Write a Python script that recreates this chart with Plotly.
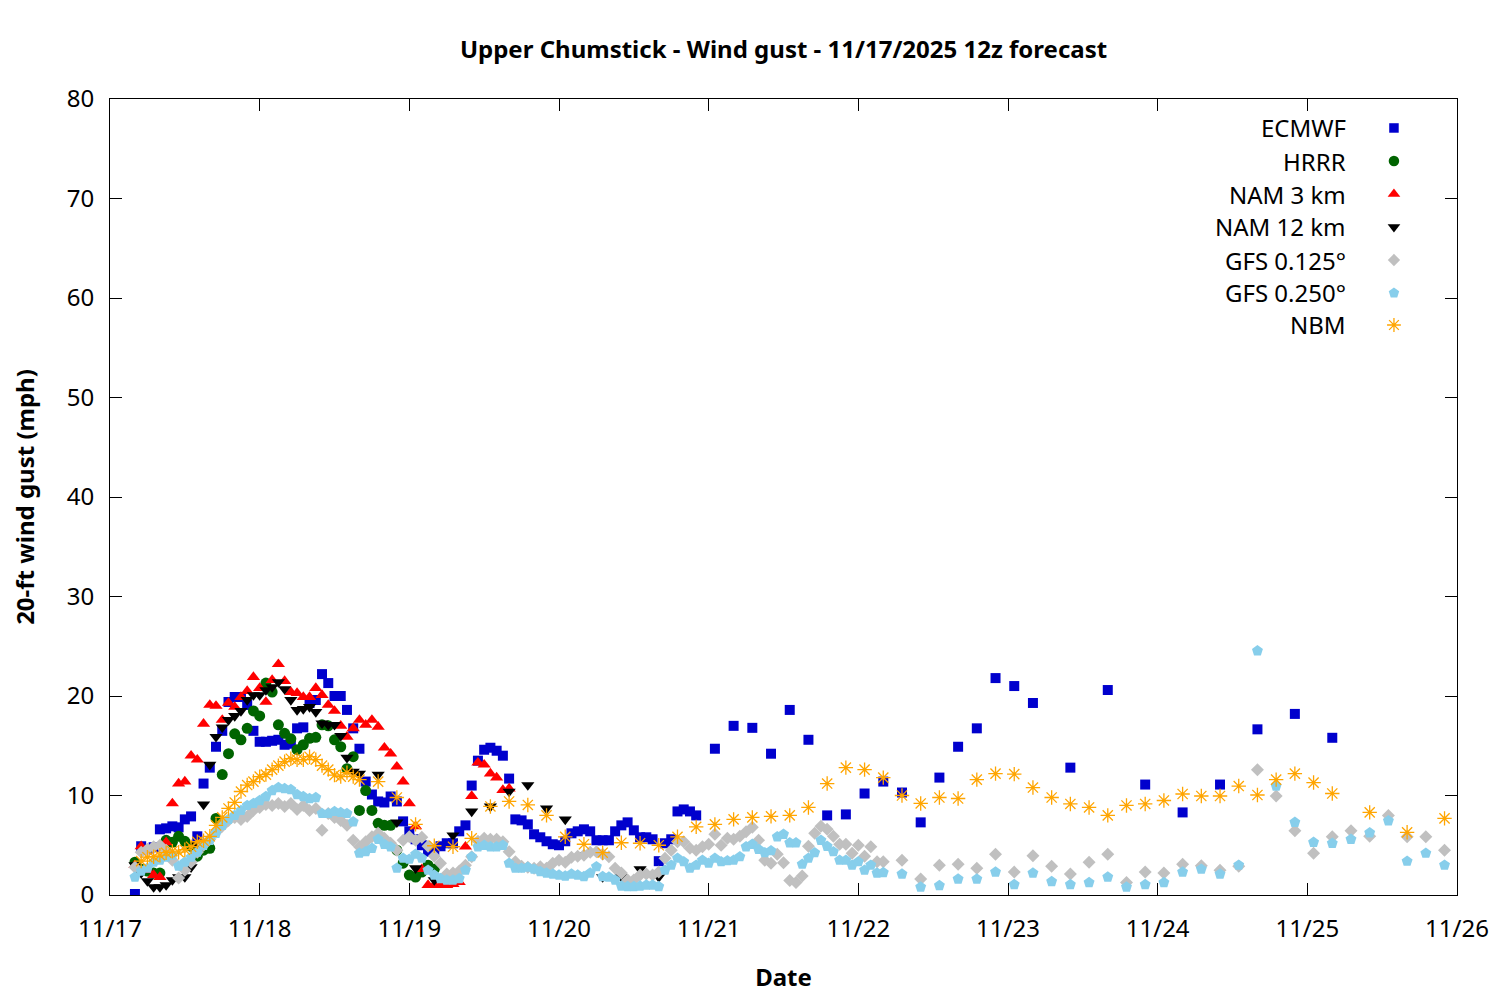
import pandas as pd
import plotly.graph_objects as go

BASE = pd.Timestamp("2025-11-17 00:00")

# ---------------- data (hours after 11/17 00:00 local) ----------------
# Each model: list of (first_hour, step_hours, values)
ecmwf_hourly = [0.1, 4.9, 4.6, 4.8, 6.6, 6.7, 6.9, 6.8, 7.6, 7.9,
                5.9, 11.2, 12.8, 14.9, 16.5, 19.4, 19.9, 19.9, 19.1, 16.5,
                15.4, 15.4, 15.5, 15.6, 15.1, 15.2, 16.75, 16.85, 19.3, 19.6,
                22.2, 21.3, 20.0, 20.0, 18.6, 16.75, 14.7, 11.4, 10.1, 9.4,
                9.3, 9.9, 9.4, 7.4, 6.4, 5.6, 5.0, 4.35, 4.5, 4.9,
                5.2, 5.2, 6.4, 7.0, 11.0, 13.5, 14.6, 14.8, 14.5, 14.0,
                11.7, 7.6, 7.5, 7.1, 6.1, 5.8, 5.4, 5.1, 5.0, 5.4,
                6.2, 6.4, 6.6, 6.4, 5.5, 5.5, 5.5, 6.4, 7.0, 7.3,
                6.5, 5.8, 5.8, 5.6, 3.4, 5.2, 5.6, 8.4, 8.6, 8.4,
                8.0]
ecmwf_3h = [14.7, 17.0, 16.8, 14.2, 18.6, 15.6, 8.0, 8.1, 10.2, 11.4,
            10.3, 7.3, 11.8, 14.9, 16.75, 21.8, 21.0, 19.3]
ecmwf_6h = [12.8, 20.6, 11.1, 8.3, 11.1, 16.65, 18.2, 15.8]

hrrr_hourly = [3.3, 2.6, 2.4, 2.2, 2.2, 5.5, 5.3, 5.9, 5.4, 4.9,
               3.9, 4.5, 4.7, 7.7, 12.1, 14.2, 16.2, 15.6, 16.75, 18.5,
               18.0, 21.3, 20.4, 17.1, 16.25, 15.7, 14.6, 15.1, 15.75, 15.85,
               17.1, 17.0, 15.6, 14.9, 12.7, 13.9, 8.5, 10.5, 8.5, 7.2,
               7.0, 7.0, 4.5, 3.2, 2.0, 1.8, 2.3, 3.0, 2.6]

nam3_hourly = [3.0, 4.9, 2.5, 2.0, 1.8, 5.3, 9.2, 11.2, 11.4, 14.0,
               13.6, 17.2, 19.1, 19.0, 17.6, 19.3, 18.9, 19.9, 20.5, 21.9,
               20.8, 19.4, 21.6, 23.2, 21.5, 20.4, 20.3, 19.9, 19.9, 20.8,
               20.1, 19.1, 18.5, 17.0, 15.9, 16.75, 17.6, 17.1, 17.6, 16.9,
               14.8, 14.2, 12.9, 11.4, 9.2, 6.9, 2.6, 1.0, 1.0, 1.0,
               1.0, 1.1, 1.3, 4.85, 9.95, 13.3, 13.1, 12.2, 11.8, 10.55,
               10.7]

nam12_hourly = [3.0, 2.2, 1.4, 0.8, 0.8, 1.0, 1.5, 1.8, 1.8, 2.8,
                5.0, 9.1, 13.1, 15.9, 16.85, 17.6, 18.0, 18.5, 19.6, 20.1,
                20.1, 20.6, 20.9, 21.4, 20.7, 19.6, 18.6, 18.7, 18.9, 18.4,
                17.25, 17.1, 17.1, 16.0, 13.8, 12.4, 12.2]
nam12_3h = [12.1, 7.3, 2.7, 1.5, 6.0, 8.4, 8.9, 10.4, 11.05, 8.7,
            7.6, 4.0, 1.8, 1.8, 2.6, 1.8]

gfs0125_hourly = [2.8, 4.3, 4.6, 4.85, 5.0, 4.5, 3.5, 1.7, 2.5, 3.3,
                  4.3, 5.0, 5.6, 6.3, 6.9, 7.5, 7.8, 7.6, 7.9, 8.5,
                  8.8, 9.1, 9.0, 9.2, 8.9, 9.2, 8.6, 9.0, 8.5, 8.7,
                  6.5, 8.2, 7.8, 7.5, 7.0, 5.5, 4.85, 5.35, 5.85, 6.2,
                  5.7, 5.2, 4.5, 5.5, 5.85, 5.5, 5.8, 4.9, 3.9, 3.2,
                  2.1, 2.2, 2.4, 3.0, 3.85, 5.4, 5.7, 5.6, 5.6, 5.35,
                  4.35, 3.35, 2.9, 2.8, 2.7, 2.85, 2.7, 3.2, 3.5, 3.3,
                  3.8, 3.9, 4.0, 4.3, 4.35, 4.1, 3.85, 2.7, 2.2, 1.5,
                  1.5, 2.0, 2.1, 2.0, 2.3, 3.7, 4.5, 5.35, 5.35, 4.7,
                  4.5, 4.85, 5.1, 6.1, 5.0, 5.7, 5.6, 5.9, 6.35, 6.8,
                  5.5, 3.5, 3.2, 4.1, 3.25, 1.45, 1.25, 1.9, 4.9, 6.2,
                  6.9, 6.6, 5.9, 5.1, 5.1, 4.2, 5.0, 3.9, 4.85, 3.35,
                  3.35]
gfs0125_3h = [3.5, 1.6, 3.0, 3.1, 2.7, 4.1, 2.3, 3.95, 2.9, 2.1,
              3.3, 4.1, 1.25, 2.3, 2.2, 3.1, 2.95, 2.5, 2.9, 12.6,
              9.95, 6.45, 4.2, 5.85, 6.45, 5.9, 8.0, 5.85, 5.85, 4.5]

gfs0250_hourly = [1.8, 2.4, 2.7, 3.3, 3.5, 3.8, 4.0, 2.9, 3.3, 3.8,
                  4.3, 5.0, 5.5, 6.2, 7.0, 7.6, 8.0, 8.5, 9.0, 9.2,
                  9.5, 9.9, 10.5, 10.8, 10.7, 10.6, 10.1, 9.9, 9.7, 9.8,
                  8.2, 8.2, 8.4, 8.3, 8.2, 7.35, 4.2, 4.35, 4.7, 5.6,
                  5.1, 4.85, 2.7, 3.7, 3.6, 4.1, 3.7, 2.5, 2.0, 1.65,
                  1.5, 1.5, 1.65, 2.5, 3.85, 4.85, 5.0, 4.85, 4.85, 5.0,
                  3.2, 2.7, 2.7, 2.8, 2.6, 2.35, 2.2, 2.1, 2.0, 1.9,
                  2.1, 2.0, 1.85, 2.2, 2.85, 1.85, 1.8, 1.5, 0.9, 0.85,
                  0.85, 0.9, 1.0, 1.0, 0.85, 2.5, 3.0, 3.7, 3.35, 2.7,
                  3.0, 3.5, 3.2, 3.7, 3.35, 3.45, 3.5, 3.85, 4.85, 5.1,
                  4.6, 4.25, 4.45, 5.85, 6.1, 5.25, 5.25, 3.1, 3.7, 4.25,
                  5.5, 4.9, 4.35, 3.5, 3.5, 3.0, 3.35, 2.5, 3.0, 2.2,
                  2.25]
gfs0250_3h = [2.1, 0.8, 0.95, 1.6, 1.6, 2.3, 1.05, 2.2, 1.35, 1.05,
              1.25, 1.8, 0.8, 1.05, 1.25, 2.3, 2.6, 2.1, 3.0, 24.55,
              10.95, 7.3, 5.3, 5.2, 5.6, 6.25, 7.45, 3.4, 4.2, 3.0]

nbm_hourly = [3.4, 3.8, 3.85, 4.0, 4.25, 4.4, 4.3, 4.55, 4.85, 5.35,
              5.45, 5.9, 7.0, 7.8, 8.7, 9.3, 10.4, 11.05, 11.4, 11.9,
              12.1, 12.6, 13.0, 13.4, 13.7, 13.6, 13.6, 13.9, 13.6, 13.0,
              12.6, 12.05, 11.9, 12.3, 11.9, 11.6]
nbm_3h = [11.4, 9.8, 7.1, 4.95, 4.85, 5.7, 8.9, 9.4, 9.05, 8.0,
          5.85, 5.1, 4.25, 5.25, 5.2, 5.0, 5.85, 6.85, 7.1, 7.6,
          7.8, 7.9, 8.0, 8.8, 11.2, 12.8, 12.6, 11.8, 10.0, 9.2,
          9.8, 9.7, 11.6, 12.2, 12.15, 10.8, 9.8, 9.15, 8.8, 8.0,
          9.0, 9.15, 9.5, 10.15, 9.95, 9.95, 10.95, 10.05, 11.6, 12.2,
          11.3, 10.2]
nbm_6h = [8.3, 6.3, 7.7]

series_names = ["ECMWF", "HRRR", "NAM 3 km", "NAM 12 km",
                "GFS 0.125°", "GFS 0.250°", "NBM"]
schedules = {
    "ECMWF": [(4, 1, ecmwf_hourly), (97, 3, ecmwf_3h), (154, 6, ecmwf_6h)],
    "HRRR": [(4, 1, hrrr_hourly)],
    "NAM 3 km": [(4, 1, nam3_hourly)],
    "NAM 12 km": [(4, 1, nam12_hourly), (43, 3, nam12_3h)],
    "GFS 0.125°": [(4, 1, gfs0125_hourly), (127, 3, gfs0125_3h)],
    "GFS 0.250°": [(4, 1, gfs0250_hourly), (127, 3, gfs0250_3h)],
    "NBM": [(5, 1, nbm_hourly), (43, 3, nbm_3h), (202, 6, nbm_6h)],
}

# ---------------- styles ----------------
styles = {
    "ECMWF": dict(symbol="square", color="#0000CD", size=10),
    "HRRR": dict(symbol="circle", color="#006400", size=11),
    "NAM 3 km": dict(symbol="triangle-up", color="#FF0000", size=11.5),
    "NAM 12 km": dict(symbol="triangle-down", color="#000000", size=11.5),
    "GFS 0.125°": dict(symbol="diamond", color="#C0C0C0", size=10),
    "GFS 0.250°": dict(symbol="pentagon", color="#87CEEB", size=11.5),
    "NBM": dict(symbol="asterisk-open", color="#FFA500", size=12),
}

FONT = "Noto Sans"
FS = 24
fig = go.Figure()

def make_marker(st, size):
    m = dict(symbol=st["symbol"], color=st["color"], size=size)
    if st["symbol"].endswith("open"):
        m["line"] = dict(color=st["color"], width=1.3)
    else:
        m["line"] = dict(width=0)
    return m

for name in series_names:
    xs, ys = [], []
    for start, step, vals in schedules[name]:
        for i, v in enumerate(vals):
            xs.append(BASE + pd.Timedelta(hours=start + i * step))
            ys.append(v)
    st = styles[name]
    fig.add_trace(go.Scatter(x=xs, y=ys, mode="markers", name=name,
                             marker=make_marker(st, st["size"]),
                             showlegend=False, hoverinfo="skip"))

# ---------------- manual gnuplot-style key (text left of symbol) ----------------
key_rows_y = [0.9636, 0.9221, 0.8806, 0.8392, 0.7977, 0.7563, 0.7161]
key_sym_x = 0.9532
key_text_x = 0.9189
for name, ky in zip(series_names, key_rows_y):
    st = styles[name]
    fig.add_trace(go.Scatter(x=[key_sym_x], y=[ky], xaxis="x2", yaxis="y2",
                             mode="markers",
                             marker=make_marker(st, st["size"] - 0.5),
                             showlegend=False, hoverinfo="skip"))
    fig.add_annotation(x=key_text_x, y=ky, xref="paper", yref="paper",
                       text=name, showarrow=False, xanchor="right",
                       yanchor="middle",
                       font=dict(family=FONT, size=FS, color="black"))

fig.update_layout(
    width=1500, height=1000,
    paper_bgcolor="white", plot_bgcolor="white",
    margin=dict(l=102, r=51, t=91, b=113),
    font=dict(family=FONT, size=FS, color="black"),
    title=dict(text="Upper Chumstick - Wind gust - 11/17/2025 12z forecast",
               x=(102 + 1347 / 2) / 1500, xanchor="center",
               y=1 - 42 / 1000, yanchor="middle",
               font=dict(family=FONT, size=FS, color="black", weight="bold")),
    xaxis=dict(type="date",
               range=[BASE, BASE + pd.Timedelta(days=9)],
               dtick=86400000, tick0=BASE, tickformat="%m/%d",
               ticks="inside", ticklen=12, tickcolor="black",
               showline=True, linecolor="black", linewidth=1,
               mirror="ticks", showgrid=False, zeroline=False,
               ticklabelstandoff=12,
               tickfont=dict(family=FONT, size=FS),
               title=dict(text="Date", standoff=26,
                          font=dict(family=FONT, size=FS, weight="bold"))),
    yaxis=dict(range=[0, 80], dtick=10, tick0=0,
               ticks="inside", ticklen=12, tickcolor="black",
               showline=True, linecolor="black", linewidth=1,
               mirror="ticks", showgrid=False, zeroline=False,
               ticklabelstandoff=10,
               tickfont=dict(family=FONT, size=FS),
               title=dict(text="20-ft wind gust (mph)", standoff=25,
                          font=dict(family=FONT, size=FS, weight="bold"))),
    xaxis2=dict(overlaying="x", range=[0, 1], visible=False, fixedrange=True),
    yaxis2=dict(overlaying="y", range=[0, 1], visible=False, fixedrange=True),
)

fig.write_html("out.html")
